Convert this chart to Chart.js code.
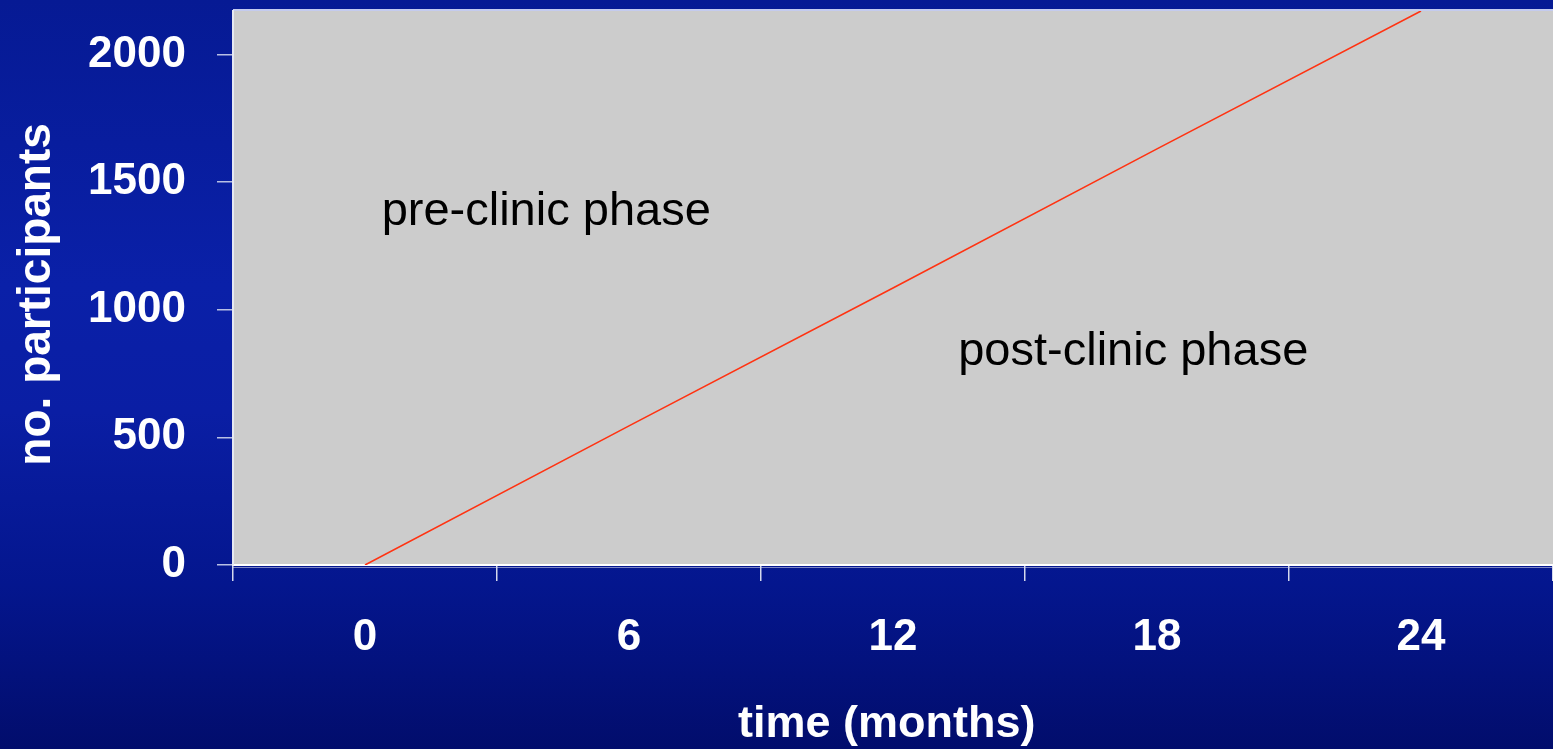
<!DOCTYPE html>
<html>
<head>
<meta charset="utf-8">
<title>Participants over time</title>
<script src="https://cdn.jsdelivr.net/npm/chart.js@4/dist/chart.umd.min.js"></script>
<style>
  html, body { margin: 0; padding: 0; }
  body {
    width: 1553px; height: 749px; overflow: hidden;
    background: linear-gradient(to bottom, #061a94 0%, #0a20a8 38%, #0a1ea4 55%, #04168e 78%, #020d6c 100%);
  }
  canvas { display: block; }
</style>
</head>
<body>
<canvas id="chart" width="1553" height="749"></canvas>
<script>
// time axis categories (months)
const months = ['0', '6', '12', '18', '24'];
// cumulative number of participants at each time point
const participants = [0, 545, 1085, 1630, 2170];
// y axis tick values
const yTicks = [0, 500, 1000, 1500, 2000];

// phase labels placed inside the plot (category index, value)
const phaseLabels = [
  { text: 'pre-clinic phase', at: [0.063, 1332] },
  { text: 'post-clinic phase', at: [2.247, 783] }
];

const FONT = '"Liberation Sans", Arial, Helvetica, sans-serif';

const plotArea = {
  id: 'plotArea',
  beforeDraw(chart) {
    const { ctx, chartArea: a } = chart;
    ctx.save();
    ctx.fillStyle = '#cccccc';
    ctx.fillRect(a.left, a.top, a.right - a.left, a.bottom - a.top);
    // top frame line
    ctx.strokeStyle = '#c4cbef';
    ctx.lineWidth = 2;
    ctx.beginPath();
    ctx.moveTo(a.left, a.top - 1);
    ctx.lineTo(a.right, a.top - 1);
    ctx.stroke();
    // shadow line under the baseline
    ctx.strokeStyle = '#7d86c4';
    ctx.lineWidth = 1;
    ctx.beginPath();
    ctx.moveTo(a.left, a.bottom + 2.5);
    ctx.lineTo(a.right, a.bottom + 2.5);
    ctx.stroke();
    ctx.restore();
  },
  afterDatasetsDraw(chart) {
    const { ctx, scales: { x, y } } = chart;
    ctx.save();
    ctx.fillStyle = '#000000';
    ctx.font = '47px ' + FONT;
    ctx.textAlign = 'left';
    ctx.textBaseline = 'alphabetic';
    phaseLabels.forEach(l => {
      ctx.fillText(l.text, x.getPixelForValue(l.at[0]), y.getPixelForValue(l.at[1]));
    });
    ctx.restore();
  }
};

new Chart(document.getElementById('chart'), {
  type: 'line',
  data: {
    labels: months,
    datasets: [{
      data: participants,
      borderColor: '#ff3312',
      borderWidth: 1.6,
      pointRadius: 0,
      tension: 0,
      fill: false
    }]
  },
  options: {
    responsive: false,
    devicePixelRatio: 1,
    animation: false,
    layout: { padding: { top: 11, right: 0, bottom: 0, left: 0 } },
    plugins: { legend: { display: false }, tooltip: { enabled: false } },
    scales: {
      x: {
        type: 'category',
        offset: true,
        grid: { offset: true, drawOnChartArea: false, drawTicks: true, tickLength: 16, color: '#d4d8ec', lineWidth: 1.5 },
        border: { display: true, color: '#ffffff', width: 2 },
        ticks: { color: '#ffffff', padding: 30, font: { family: FONT, size: 44, weight: 'bold' } },
        title: { display: true, text: 'time (months)\u00a0', color: '#ffffff', padding: { top: 0, bottom: 0 },
                 font: { family: FONT, size: 45, weight: 'bold', lineHeight: 1.1 } },
        afterFit(scale) {
          scale.height = 749 - 565;
          scale.paddingLeft = 0;
          scale.paddingRight = 0;
        }
      },
      y: {
        type: 'linear',
        min: 0,
        max: 2170,
        afterBuildTicks(scale) { scale.ticks = yTicks.map(v => ({ value: v })); },
        grid: { drawOnChartArea: false, drawTicks: true, tickLength: 16, color: '#b8c0e4', lineWidth: 1.5 },
        border: { display: true, color: '#e6e8f2', width: 2 },
        ticks: { color: '#ffffff', padding: 31, callback: v => String(v),
                 font: { family: FONT, size: 44, weight: 'bold' } },
        title: { display: true, text: 'no. participants\u00a0', color: '#ffffff', padding: { top: 10, bottom: 0 },
                 font: { family: FONT, size: 46, weight: 'bold' } },
        afterFit(scale) {
          scale.width = 233;
          scale.paddingTop = 0;
          scale.paddingBottom = 0;
        }
      }
    }
  },
  plugins: [plotArea]
});
</script>
</body>
</html>
